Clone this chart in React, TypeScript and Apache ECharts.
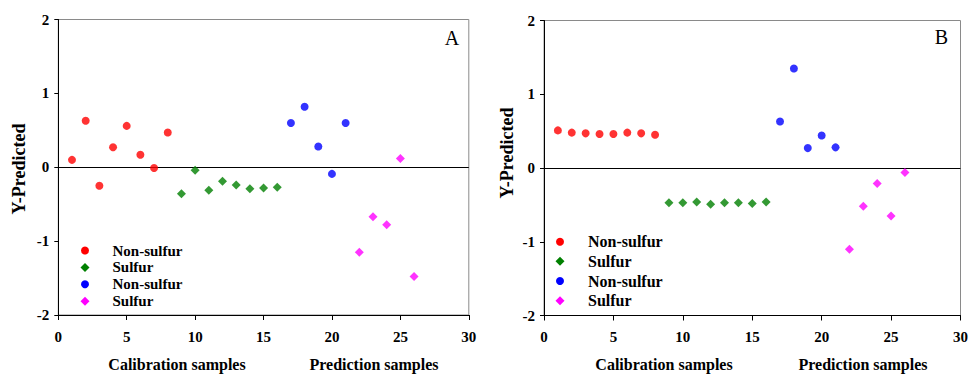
import React, { useEffect, useRef } from "react";
import * as echarts from "echarts";

const calibNonSulfurX = [1, 2, 3, 4, 5, 6, 7, 8];
const calibSulfurX = [9, 10, 11, 12, 13, 14, 15, 16];
const predNonSulfurX = [17, 18, 19, 20, 21];
const predSulfurX = [22, 23, 24, 25, 26];

const aCalibNonSulfur = [0.10, 0.63, -0.25, 0.27, 0.56, 0.17, -0.01, 0.47];
const aCalibSulfur = [-0.36, -0.04, -0.31, -0.19, -0.24, -0.29, -0.28, -0.27];
const aPredNonSulfur = [0.60, 0.82, 0.28, -0.09, 0.60];
const aPredSulfur = [-1.15, -0.67, -0.78, 0.12, -1.48];

const bCalibNonSulfur = [0.51, 0.48, 0.47, 0.46, 0.46, 0.48, 0.47, 0.45];
const bCalibSulfur = [-0.47, -0.47, -0.46, -0.49, -0.47, -0.47, -0.48, -0.46];
const bPredNonSulfur = [0.63, 1.35, 0.27, 0.44, 0.28];
const bPredSulfur = [-1.10, -0.52, -0.21, -0.65, -0.06];

const legendLabels = ["Non-sulfur", "Sulfur", "Non-sulfur", "Sulfur"];
const xAxisTitles = ["Calibration samples", "Prediction samples"];
const panelLetters = ["A", "B"];
const yTitle = "Y-Predicted";

const RED = "#ff0000";
const GREEN = "#008000";
const BLUE = "#0000ff";
const MAGENTA = "#ff00ff";
const FONT = "Liberation Serif";

const pairs = (xs: number[], ys: number[]) => xs.map((x, i) => [x, ys[i]]);

export default function App() {
  const ref = useRef<HTMLDivElement>(null);
  useEffect(() => {
    if (!ref.current) return;
    const chart = echarts.init(ref.current, null, { renderer: "svg" });

    const grids = [
      { left: 58.3, top: 19.5, width: 410.5, height: 295.5 },
      { left: 544, top: 20.5, width: 417, height: 295 },
    ];

    const mkX = (gi: number) => ({
      type: "value",
      gridIndex: gi,
      min: 0,
      max: 30,
      interval: 5,
      axisLine: { show: true, onZero: false, lineStyle: { color: "#000", width: 1 } },
      axisTick: { show: true, inside: false, length: 5, lineStyle: { color: "#000" } },
      axisLabel: { color: "#000", fontFamily: FONT, fontWeight: "bold", fontSize: 15, margin: 14 },
      splitLine: { show: false },
    });
    const mkY = (gi: number) => ({
      type: "value",
      gridIndex: gi,
      min: -2,
      max: 2,
      interval: 1,
      axisLine: { show: true, onZero: false, lineStyle: { color: "#000", width: 1 } },
      axisTick: { show: true, inside: false, length: 4, lineStyle: { color: "#000" } },
      axisLabel: { color: "#000", fontFamily: FONT, fontWeight: "bold", fontSize: 15, margin: 9 },
      splitLine: { show: false },
    });

    const mkSeries = (gi: number, name: string, data: number[][], color: string, symbol: string, size: number, zero = false) => {
      const s: any = {
        type: "scatter",
        name,
        xAxisIndex: gi,
        yAxisIndex: gi,
        data,
        symbol,
        symbolSize: size,
        itemStyle: { color },
        z: 3,
      };
      if (zero) {
        s.markLine = {
          silent: true,
          symbol: "none",
          label: { show: false },
          lineStyle: { color: "#000", width: 1, type: "solid" },
          data: [{ yAxis: 0 }],
          z: 2,
        };
      }
      return s;
    };

    const series = [
      mkSeries(0, "Non-sulfur", pairs(calibNonSulfurX, aCalibNonSulfur), RED, "circle", 8, true),
      mkSeries(0, "Sulfur", pairs(calibSulfurX, aCalibSulfur), GREEN, "diamond", 9),
      mkSeries(0, "Non-sulfur", pairs(predNonSulfurX, aPredNonSulfur), BLUE, "circle", 8),
      mkSeries(0, "Sulfur", pairs(predSulfurX, aPredSulfur), MAGENTA, "diamond", 9),
      mkSeries(1, "Non-sulfur", pairs(calibNonSulfurX, bCalibNonSulfur), RED, "circle", 8, true),
      mkSeries(1, "Sulfur", pairs(calibSulfurX, bCalibSulfur), GREEN, "diamond", 9),
      mkSeries(1, "Non-sulfur", pairs(predNonSulfurX, bPredNonSulfur), BLUE, "circle", 8),
      mkSeries(1, "Sulfur", pairs(predSulfurX, bPredSulfur), MAGENTA, "diamond", 9),
    ];

    const txt = (x: number, y: number, text: string, size: number, bold: boolean, align: string, extra: any = {}) => ({
      type: "text",
      x,
      y,
      ...extra,
      style: {
        text,
        fontFamily: FONT,
        fontSize: size,
        fontWeight: bold ? "bold" : "normal",
        fill: "#000",
        textAlign: align,
        textVerticalAlign: "middle",
      },
    });

    const legendColors = [RED, GREEN, BLUE, MAGENTA];
    const legendShapes = ["circle", "diamond", "circle", "diamond"];
    const legendPos = [
      { mx: 85, tx: 112.5, y0: 250.5, dy: 16.9, fs: 15 },
      { mx: 560, tx: 588, y0: 241.7, dy: 19.67, fs: 16 },
    ];
    const graphics: any[] = [];
    legendPos.forEach((lp) => {
      legendLabels.forEach((label, i) => {
        const y = lp.y0 + i * lp.dy;
        if (legendShapes[i] === "circle") {
          graphics.push({ type: "circle", shape: { cx: lp.mx, cy: y, r: 4 }, style: { fill: legendColors[i] } });
        } else {
          graphics.push({
            type: "polygon",
            shape: { points: [[lp.mx, y - 4.5], [lp.mx + 4.5, y], [lp.mx, y + 4.5], [lp.mx - 4.5, y]] },
            style: { fill: legendColors[i] },
          });
        }
        graphics.push(txt(lp.tx, y, label, lp.fs, true, "left"));
      });
    });

    const titlePos = [
      { cx: [177, 374], y: 364 },
      { cx: [664, 863], y: 364 },
    ];
    titlePos.forEach((tp) => {
      tp.cx.forEach((cx, i) => {
        graphics.push(txt(cx, tp.y, xAxisTitles[i], 16, true, "center"));
      });
    });

    const yTitlePos = [
      { x: 19, y: 169 },
      { x: 507, y: 153 },
    ];
    yTitlePos.forEach((p) => {
      graphics.push(txt(p.x, p.y, yTitle, 18, true, "center", { rotation: Math.PI / 2 }));
    });

    const letterPos = [
      { x: 452, y: 38 },
      { x: 941.5, y: 37 },
    ];
    letterPos.forEach((p, i) => {
      graphics.push(txt(p.x, p.y, panelLetters[i], 20, false, "center"));
    });

    chart.setOption({
      animation: false,
      backgroundColor: "#fff",
      textStyle: { fontFamily: FONT },
      grid: grids.map((g) => ({ ...g, show: true, borderColor: "#8a8a8a", borderWidth: 1, backgroundColor: "transparent" })),
      xAxis: [mkX(0), mkX(1)],
      yAxis: [mkY(0), mkY(1)],
      series,
      graphic: graphics,
    } as any);

    return () => chart.dispose();
  }, []);

  return (
    <div
      ref={ref}
      style={{ position: "fixed", left: 0, top: 0, width: 971, height: 374, background: "#fff" }}
    />
  );
}
